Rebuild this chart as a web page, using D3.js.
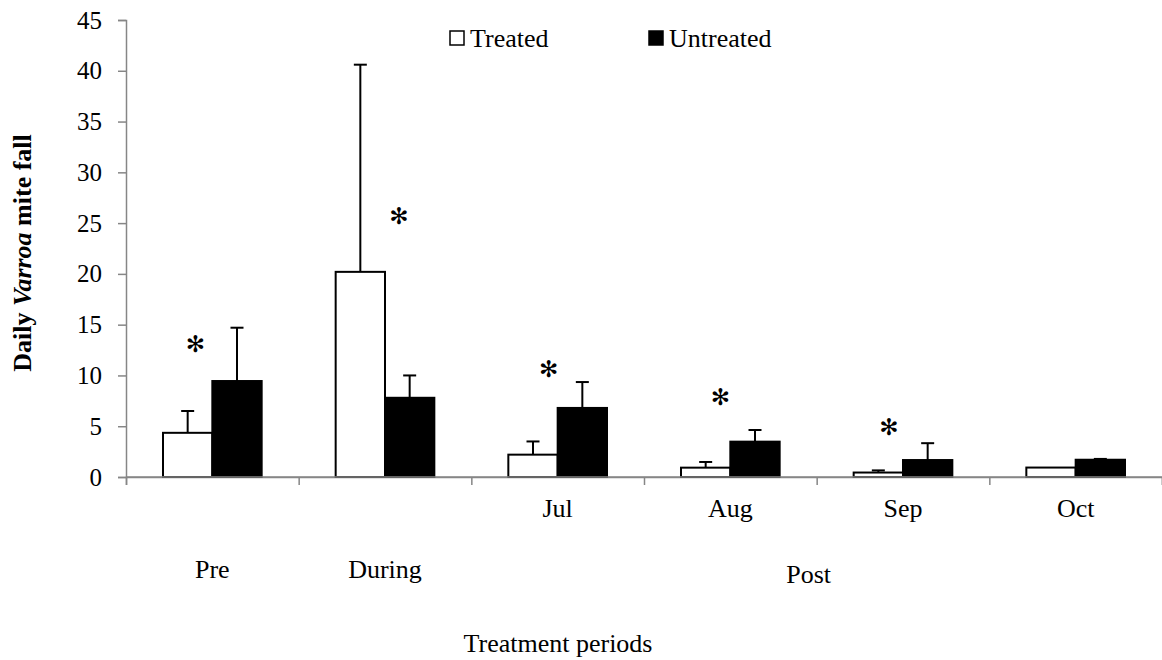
<!DOCTYPE html>
<html>
<head>
<meta charset="utf-8">
<script src="https://cdn.jsdelivr.net/npm/d3@7"></script>
<style>
  html, body { margin: 0; padding: 0; background: #fff; }
  svg { display: block; }
  text { font-family: "Liberation Serif", "Times New Roman", serif; fill: #000; }
</style>
</head>
<body>
<svg id="chart" width="1162" height="660"></svg>
<script>
// ---- data ----
const categories = ["Pre", "During", "Jul", "Aug", "Sep", "Oct"];
const series = ["Treated", "Untreated"];
const treatedMean = [4.35, 20.2, 2.2, 0.92, 0.44, 0.93];
const treatedErrTop = [6.5, 40.6, 3.5, 1.48, 0.65, 0.93];
const untreatedMean = [9.45, 7.8, 6.8, 3.48, 1.67, 1.7];
const untreatedErrTop = [14.7, 10.0, 9.35, 4.63, 3.33, 1.78];
const yTicks = [0, 5, 10, 15, 20, 25, 30, 35, 40, 45];
const monthLabels = ["Jul", "Aug", "Sep", "Oct"];
const periodLabels = ["Pre", "During"];
const starCategories = ["Pre", "During", "Jul", "Aug", "Sep"];
const starLevels = [13.1, 25.7, 10.6, 7.9, 4.95];

// ---- layout ----
const svg = d3.select("#chart");
const mLeft = 126, mRight = 1162, mTop = 20, mBottom = 477;

const x = d3.scaleBand().domain(categories).range([mLeft, mRight]).paddingInner(0).paddingOuter(0);
const x1 = d3.scaleBand().domain(series).range([0, x.bandwidth()]).paddingInner(0).paddingOuter(0.75);
const y = d3.scaleLinear().domain([0, 45]).range([mBottom, mTop]);

const axisColor = "#868686";

// y axis
const yAxis = svg.append("g").attr("transform", `translate(${mLeft},0)`)
  .call(d3.axisLeft(y).tickValues(yTicks).tickSize(8).tickPadding(16).tickFormat(d3.format("d")));
yAxis.select(".domain").attr("stroke", axisColor).attr("stroke-width", 1.5);
yAxis.selectAll(".tick line").attr("stroke", axisColor).attr("stroke-width", 1.5);
yAxis.selectAll(".tick text").style("font-size", "25px").style("font-family", "Liberation Serif").attr("fill", "#000");

// x axis (ticks at band boundaries)
const xb = d3.scaleLinear().domain([0, categories.length]).range([mLeft, mRight]);
const xAxis = svg.append("g").attr("transform", `translate(0,${mBottom})`)
  .call(d3.axisBottom(xb).tickValues(d3.range(0, categories.length + 1)).tickSize(8).tickFormat(""));
xAxis.select(".domain").attr("stroke", axisColor).attr("stroke-width", 1.5);
xAxis.selectAll(".tick line").attr("stroke", axisColor).attr("stroke-width", 1.5);

// bars
const rows = categories.map((c, i) => ({
  cat: c,
  vals: [
    { s: "Treated", v: treatedMean[i], e: treatedErrTop[i] },
    { s: "Untreated", v: untreatedMean[i], e: untreatedErrTop[i] }
  ]
}));

const groups = svg.append("g").selectAll("g").data(rows).join("g")
  .attr("transform", d => `translate(${x(d.cat)},0)`);

// error bars (drawn first, bar on top)
groups.selectAll("g.err").data(d => d.vals.filter(v => v.e > v.v + 0.01)).join("g").attr("class", "err")
  .each(function(d) {
    const g = d3.select(this);
    const cx = x1(d.s) + x1.bandwidth() / 2;
    g.append("line").attr("x1", cx).attr("x2", cx).attr("y1", y(d.v)).attr("y2", y(d.e))
      .attr("stroke", "#000").attr("stroke-width", 2);
    g.append("line").attr("x1", cx - 6.5).attr("x2", cx + 6.5).attr("y1", y(d.e)).attr("y2", y(d.e))
      .attr("stroke", "#000").attr("stroke-width", 2);
  });

groups.selectAll("rect").data(d => d.vals).join("rect")
  .attr("x", d => x1(d.s))
  .attr("y", d => y(d.v))
  .attr("width", x1.bandwidth())
  .attr("height", d => y(0) - y(d.v))
  .attr("fill", d => d.s === "Treated" ? "#fff" : "#000")
  .attr("stroke", "#000")
  .attr("stroke-width", 2);

// redraw baseline over bars
svg.append("line").attr("x1", mLeft).attr("x2", mRight).attr("y1", mBottom).attr("y2", mBottom)
  .attr("stroke", axisColor).attr("stroke-width", 1.5);

// significance stars
const starDx = [-17, 14, -9, -10, -14];
svg.append("g").selectAll("text").data(starCategories).join("text")
  .attr("x", (c, i) => x(c) + x.bandwidth() / 2 + starDx[i])
  .attr("y", (c, i) => y(starLevels[i]))
  .attr("text-anchor", "middle")
  .attr("dominant-baseline", "central")
  .style("font-family", "DejaVu Sans")
  .style("font-size", "23px")
  .style("font-weight", "bold")
  .text("✻");

// month labels (first row)
svg.append("g").selectAll("text").data(monthLabels).join("text")
  .attr("x", d => x(d) + x.bandwidth() / 2)
  .attr("y", 517)
  .attr("text-anchor", "middle")
  .style("font-size", "26px")
  .text(d => d);

// period labels (second row)
svg.append("g").selectAll("text").data(periodLabels).join("text")
  .attr("x", d => x(d) + x.bandwidth() / 2)
  .attr("y", 578)
  .attr("text-anchor", "middle")
  .style("font-size", "26px")
  .text(d => d);

svg.append("text")
  .attr("x", (x("Jul") + x("Oct") + x.bandwidth()) / 2 - 8)
  .attr("y", 583)
  .attr("text-anchor", "middle")
  .style("font-size", "26px")
  .text("Post");

// x axis title
svg.append("text")
  .attr("x", 558).attr("y", 652)
  .attr("text-anchor", "middle")
  .style("font-size", "26px")
  .text("Treatment periods");

// y axis title
const yt = svg.append("text")
  .attr("transform", "translate(31,253) rotate(-90)")
  .attr("text-anchor", "middle")
  .style("font-size", "26px")
  .style("font-weight", "bold");
yt.append("tspan").text("Daily ");
yt.append("tspan").style("font-style", "italic").text("Varroa");
yt.append("tspan").text(" mite fall");

// legend
const legendX = [450, 649];
const leg = svg.append("g").selectAll("g").data(series).join("g")
  .attr("transform", (d, i) => `translate(${legendX[i]},31)`);
leg.append("rect").attr("width", 14).attr("height", 14)
  .attr("fill", d => d === "Treated" ? "#fff" : "#000")
  .attr("stroke", "#000").attr("stroke-width", 1.5);
leg.append("text").attr("x", 20).attr("y", 15.5)
  .style("font-size", "26px").text(d => d);
</script>
</body>
</html>
